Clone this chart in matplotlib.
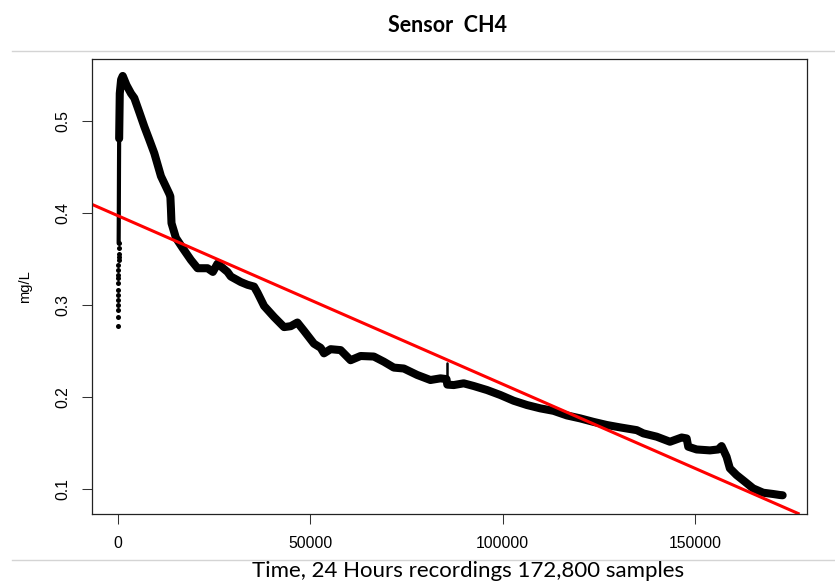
import matplotlib
matplotlib.use("Agg")
import matplotlib.pyplot as plt
from matplotlib.lines import Line2D
import numpy as np

# --- sensor readings (sample index, mg/L) ---
# first samples after switch-on, plotted as separate dots
startup_idx = [0, 10, 20, 30, 40, 50, 60, 70, 80, 90, 100, 110, 120, 130, 140, 150, 160]
startup_val = [0.277, 0.287, 0.2946, 0.300, 0.3054, 0.3109, 0.3163, 0.3236, 0.329,
               0.3326, 0.338, 0.3435, 0.349, 0.3525, 0.356, 0.3616, 0.367]

# fast warm-up rise
rise_idx = [160, 190, 220, 250, 290]
rise_val = [0.367, 0.390, 0.420, 0.450, 0.481]

# main recording
main_idx = [290, 450, 800, 1220, 2200, 3370, 4230, 5500, 6830, 8100, 9430, 11160,
            12300, 13320, 13600, 13750, 13900, 15050, 16790, 18940, 20680, 23270,
            24650, 25870, 28460, 29320, 31920, 33660, 35370, 36250, 37970, 40560,
            43160, 44900, 46630, 48350, 50940, 52680, 53540, 55270, 57870, 60460,
            63060, 66510, 69110, 71700, 74300, 77770, 81220, 83820, 85400, 85600,
            87270, 89870, 92460, 95930, 99390, 102840, 106320, 109770, 113230,
            116700, 120150, 123600, 127080, 130530, 134870, 136580, 140050, 143500,
            146540, 147840, 148250, 150430, 153890, 156040, 156920, 158220, 159070,
            160810, 162970, 165120, 167720, 170320, 172050, 172800]
main_val = [0.481, 0.530, 0.545, 0.549, 0.539, 0.530, 0.525, 0.510, 0.494, 0.480,
            0.465, 0.440, 0.430, 0.421, 0.418, 0.405, 0.389, 0.373, 0.362, 0.349,
            0.340, 0.340, 0.336, 0.345, 0.336, 0.331, 0.325, 0.322, 0.320, 0.3135,
            0.299, 0.287, 0.276, 0.277, 0.281, 0.272, 0.258, 0.2535, 0.2475, 0.252,
            0.251, 0.240, 0.2446, 0.244, 0.2384, 0.232, 0.231, 0.224, 0.2185, 0.2203,
            0.2195, 0.2135, 0.213, 0.2149, 0.212, 0.2076, 0.2022, 0.196, 0.1913,
            0.1877, 0.185, 0.180, 0.1768, 0.173, 0.1696, 0.167, 0.164, 0.1605,
            0.1569, 0.1514, 0.156, 0.155, 0.146, 0.143, 0.142, 0.143, 0.1467,
            0.135, 0.1225, 0.1152, 0.108, 0.1007, 0.096, 0.0946, 0.0935, 0.0932]

# short transient near the middle of the day
spike_idx = [85500, 85500]
spike_val = [0.218, 0.2366]

# linear trend of the whole record
fit_intercept = 0.397
fit_slope = -1.83e-6

x_ticks = [0, 50000, 100000, 150000]
y_ticks = [0.1, 0.2, 0.3, 0.4, 0.5]

fig = plt.figure(figsize=(8.35, 5.82), dpi=100)
ax = fig.add_axes([91.5 / 835, 1 - 513.5 / 582, (806.7 - 91.5) / 835, (513.5 - 59.3) / 582])

ax.plot(startup_idx, startup_val, linestyle="none", marker="o", markersize=3.6,
        color="black", markeredgewidth=0)
ax.plot(rise_idx, rise_val, color="black", lw=3.0, solid_capstyle="round")
ax.plot(main_idx, main_val, color="black", lw=5.8, solid_capstyle="round",
        solid_joinstyle="round")
ax.plot(spike_idx, spike_val, color="black", lw=1.8, solid_capstyle="round")

ax.axline((0, fit_intercept), slope=fit_slope, color="#ff0000", lw=2.2)

ax.set_xlim(-6900, 179050)
ax.set_ylim(0.0734, 0.5671)
ax.set_xticks(x_ticks)
ax.set_yticks(y_ticks)
ax.set_xticklabels([str(t) for t in x_ticks], family="Liberation Sans", fontsize=11.3)
ax.set_yticklabels([f"{t:.1f}" for t in y_ticks], family="Liberation Sans", fontsize=11.3,
                   rotation=90, va="center")
ax.tick_params(axis="both", direction="out", length=7.2, width=0.75, color="#333333")
ax.tick_params(axis="x", pad=9)
ax.tick_params(axis="y", pad=8)
for s in ax.spines.values():
    s.set_linewidth(0.9)
    s.set_color("#222222")

fig.text(25 / 835, 1 - 287 / 582, "mg/L", rotation=90, ha="center", va="center",
         family="Liberation Sans", fontsize=10.5)

fig.text(447 / 835, 1 - 25 / 582, "Sensor  CH4", ha="center", va="center",
         family="Lato", fontweight="bold", fontsize=15.5)
fig.text(468 / 835, 1 - 571 / 582, "Time, 24 Hours recordings 172,800 samples",
         ha="center", va="center", family="Lato", fontsize=16)

fig.add_artist(Line2D([12 / 835, 1.0], [1 - 51 / 582, 1 - 51 / 582],
                      transform=fig.transFigure, color="#d4d4d4", lw=1))
fig.add_artist(Line2D([12 / 835, 1.0], [1 - 560 / 582, 1 - 560 / 582],
                      transform=fig.transFigure, color="#d4d4d4", lw=1))

fig.savefig("out.png", dpi=100)
